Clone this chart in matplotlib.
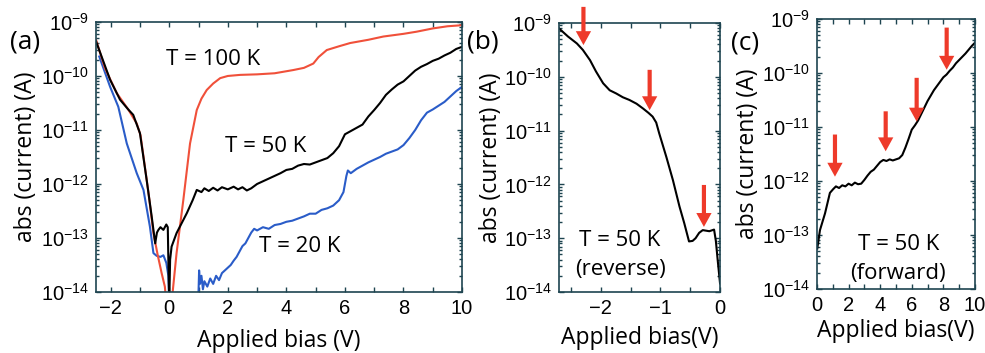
import numpy as np
import matplotlib
matplotlib.use("Agg")
import matplotlib.pyplot as plt
from matplotlib.ticker import FixedLocator, MultipleLocator, NullFormatter

# ---------------- data (log10 of current in A) ----------------
# Panel (a)
v100 = [-2.5, -2.2, -1.79, -1.4, -1.2, -1.11, -0.98, -0.88, -0.7, -0.54, -0.4, -0.26, -0.15, -0.1,
        0.08, 0.25, 0.48, 0.71, 0.94, 1.1, 1.28, 1.5, 1.74, 2.0, 2.42, 3.0, 3.6, 4.24, 4.6, 4.92, 5.1,
        5.38, 5.8, 6.18, 6.8, 7.31, 8.0, 8.45, 9.0, 9.5, 10.0]
i100 = [-9.33, -9.85, -10.32, -10.62, -10.8, -10.88, -11.1, -11.49, -12.2, -12.91, -13.3, -13.65, -13.9, -14.2,
        -14.2, -13.28, -12.3, -11.25, -10.63, -10.42, -10.26, -10.14, -10.04, -10.0, -9.98, -9.97, -9.95, -9.89,
        -9.85, -9.77, -9.65, -9.52, -9.45, -9.39, -9.33, -9.27, -9.22, -9.18, -9.12, -9.08, -9.06]

v50 = [-2.5, -2.02, -1.68, -1.4, -1.23, -1.0, -0.77, -0.6, -0.48, -0.42, -0.37, -0.3, -0.2,
       -0.1, -0.05, -0.02, 0.0, 0.03, 0.08, 0.25, 0.6, 0.8, 0.94, 1.1, 1.2, 1.35, 1.5, 1.65, 1.8,
       2.0, 2.2, 2.35, 2.5, 2.65, 2.8, 3.0, 3.2, 3.4, 3.6, 3.8, 4.0, 4.2, 4.4, 4.6, 4.8, 5.0, 5.2,
       5.4, 5.6, 5.8, 6.0, 6.2, 6.4, 6.6, 6.8, 7.0, 7.2, 7.4, 7.6, 7.8, 8.0, 8.2, 8.4, 8.6, 8.8,
       9.0, 9.2, 9.4, 9.6, 9.8, 10.0]
i50 = [-9.36, -10.07, -10.44, -10.62, -10.72, -11.06, -11.93, -12.6, -13.1, -12.9, -12.85, -12.8, -12.85,
       -12.75, -12.8, -13.7, -14.2, -13.4, -13.16, -12.91, -12.54, -12.3, -12.11, -12.15, -12.08, -12.13,
       -12.07, -12.12, -12.06, -12.1, -12.05, -12.1, -12.06, -12.12, -12.08, -12.0, -11.95, -11.9, -11.85,
       -11.8, -11.74, -11.72, -11.66, -11.63, -11.64, -11.6, -11.56, -11.52, -11.43, -11.3, -11.08, -11.02,
       -10.96, -10.9, -10.75, -10.63, -10.5, -10.35, -10.25, -10.16, -10.1, -10.0, -9.9, -9.83, -9.78,
       -9.72, -9.68, -9.62, -9.57, -9.5, -9.46]

v20a = [-2.39, -2.02, -1.74, -1.45, -1.11, -0.88, -0.66, -0.54, -0.43, -0.3, -0.2, -0.1, -0.03, 0.0]
i20a = [-9.64, -10.2, -10.57, -11.25, -11.8, -12.11, -12.79, -13.28, -13.33, -13.35, -13.32, -13.46, -13.7, -14.2]
v20b = [1.0, 1.02, 1.05, 1.1, 1.15, 1.2, 1.3, 1.4, 1.5, 1.6, 1.7, 1.8, 1.9, 2.0, 2.1, 2.2, 2.3, 2.4,
        2.5, 2.6, 2.7, 2.8, 2.9, 3.0, 3.2, 3.4, 3.6, 3.8, 4.0, 4.2, 4.4, 4.6, 4.8, 5.0, 5.2, 5.4, 5.6,
        5.8, 5.95, 6.05, 6.1, 6.2, 6.4, 6.6, 6.8, 7.0, 7.2, 7.4, 7.6, 7.8, 8.0, 8.2, 8.4, 8.6, 8.8,
        9.0, 9.2, 9.4, 9.6, 9.8, 10.0]
i20b = [-14.0, -13.6, -13.85, -13.7, -13.95, -13.8, -13.9, -13.75, -13.85, -13.7, -13.78, -13.65, -13.6,
        -13.55, -13.5, -13.42, -13.35, -13.25, -13.15, -13.1, -13.0, -12.9, -12.83, -12.86, -12.8, -12.83,
        -12.76, -12.74, -12.7, -12.68, -12.64, -12.6, -12.55, -12.55, -12.48, -12.45, -12.4, -12.3, -12.15,
        -11.85, -11.75, -11.8, -11.72, -11.66, -11.6, -11.55, -11.5, -11.44, -11.4, -11.36, -11.28, -11.15,
        -11.0, -10.82, -10.68, -10.62, -10.55, -10.48, -10.38, -10.28, -10.2]

# Panel (b): T = 50 K reverse
vb = [-2.7, -2.55, -2.4, -2.3, -2.18, -2.08, -1.96, -1.85, -1.74, -1.63, -1.52, -1.4, -1.29, -1.2,
      -1.13, -1.07, -1.02, -0.9, -0.79, -0.68, -0.6, -0.52, -0.46, -0.41, -0.35, -0.29, -0.18, -0.1,
      -0.07, -0.04, 0.0]
ib = [-9.1, -9.25, -9.38, -9.5, -9.69, -9.9, -10.12, -10.25, -10.31, -10.38, -10.43, -10.5, -10.59, -10.67,
      -10.74, -10.85, -11.05, -11.49, -11.92, -12.41, -12.72, -13.06, -13.05, -13.0, -12.9, -12.85, -12.87,
      -12.84, -13.05, -13.4, -13.84]
arrows_b_x = [-2.29, -1.18, -0.27]
arrows_b_tail = [-8.70, -9.87, -12.01]
arrows_b_tip = [-9.41, -10.62, -12.79]

# Panel (c): T = 50 K forward
vc = [0.02, 0.19, 0.51, 0.82, 1.03, 1.2, 1.4, 1.6, 1.8, 2.0, 2.2, 2.4, 2.6, 2.8, 3.0, 3.2, 3.4, 3.6,
      3.8, 4.0, 4.2, 4.4, 4.6, 4.8, 5.0, 5.2, 5.4, 5.6, 5.8, 6.0, 6.2, 6.4, 6.6, 6.8, 7.0, 7.2, 7.4,
      7.6, 7.8, 8.0, 8.2, 8.4, 8.6, 8.8, 9.0, 9.2, 9.4, 9.6, 9.8, 10.0]
ic = [-13.25, -12.91, -12.6, -12.22, -12.15, -12.1, -12.13, -12.08, -12.1, -12.05, -12.08, -12.03, -12.06,
      -12.05, -11.98, -11.9, -11.83, -11.79, -11.72, -11.65, -11.61, -11.63, -11.6, -11.62, -11.6, -11.58,
      -11.52, -11.38, -11.22, -11.05, -10.97, -10.88, -10.76, -10.64, -10.52, -10.42, -10.32, -10.24, -10.16,
      -10.08, -10.03, -9.96, -9.9, -9.82, -9.76, -9.7, -9.64, -9.57, -9.5, -9.44]
arrows_c_x = [1.14, 4.35, 6.31, 8.21]
arrows_c_tail = [-11.14, -10.71, -10.09, -9.16]
arrows_c_tip = [-11.92, -11.45, -10.9, -9.94]

yticks = [1e-14, 1e-13, 1e-12, 1e-11, 1e-10, 1e-9]

# ---------------- style ----------------
plt.rcParams['mathtext.fontset'] = 'custom'
plt.rcParams['mathtext.rm'] = 'Liberation Sans'
plt.rcParams['mathtext.it'] = 'Liberation Sans'
plt.rcParams['mathtext.bf'] = 'Liberation Sans'
plt.rcParams['font.family'] = ['Liberation Sans', 'DejaVu Sans']

FRAME = '#1e4450'
RED = '#f0503a'
BLUE = '#2a5cc8'
ARROW = '#ee3a2a'
LAB = 'Open Sans'
TICKFS = 14.5
LABFS = 16.5
TFS = 16

fig = plt.figure(figsize=(9.85, 3.53), dpi=100)
axa = fig.add_axes([0.0975, 0.1728, 0.3716, 0.765])
axb = fig.add_axes([0.5675, 0.1728, 0.1635, 0.762])
axc = fig.add_axes([0.8294, 0.1813, 0.1604, 0.765])

minor_vals = [m * 10.0 ** e for e in range(-14, -9) for m in range(2, 10)]


def style(ax, xmaj, xmin):
    ax.set_yscale('log')
    ax.set_ylim(1e-14, 1e-9)
    for s in ax.spines.values():
        s.set_color(FRAME)
        s.set_linewidth(1.2)
    ax.yaxis.set_major_locator(FixedLocator(yticks))
    ax.yaxis.set_minor_locator(FixedLocator(minor_vals))
    ax.yaxis.set_minor_formatter(NullFormatter())
    ax.xaxis.set_major_locator(MultipleLocator(xmaj))
    ax.xaxis.set_minor_locator(MultipleLocator(xmin))
    ax.tick_params(which='both', direction='in', top=True, right=True, color=FRAME,
                   labelsize=TICKFS, width=1.0)
    ax.tick_params(which='major', length=3.5)
    ax.tick_params(which='minor', length=2.2)
    ax.tick_params(axis='x', which='minor', length=3.5)
    ax.tick_params(axis='y', pad=5)
    ax.tick_params(axis='x', pad=5)


def arrow(ax, x, t0, t1):
    ax.annotate('', xy=(x, 10 ** t1), xytext=(x, 10 ** t0),
                arrowprops=dict(arrowstyle='simple,head_length=1.0,head_width=1.1,tail_width=0.3',
                                color=ARROW, lw=0, shrinkA=0, shrinkB=0),
                annotation_clip=False)


# Panel (a)
style(axa, 2, 1)
axa.set_xlim(-2.5, 10)
axa.plot(v20a, 10.0 ** np.array(i20a), color=BLUE, lw=1.5)
axa.plot(v20b, 10.0 ** np.array(i20b), color=BLUE, lw=1.5)
axa.plot(v100, 10.0 ** np.array(i100), color=RED, lw=1.5)
axa.plot(v50, 10.0 ** np.array(i50), color='black', lw=1.5)
axa.set_xlabel('Applied bias (V)', family=LAB, fontsize=LABFS, labelpad=8)
axa.set_ylabel('abs (current) (A)', family=LAB, fontsize=LABFS, labelpad=2)
axa.text(0.32, 0.862, 'T = 100 K', transform=axa.transAxes, family=LAB, fontsize=TFS,
         ha='center', va='center')
axa.text(0.464, 0.538, 'T = 50 K', transform=axa.transAxes, family=LAB, fontsize=TFS,
         ha='center', va='center')
axa.text(0.557, 0.168, 'T = 20 K', transform=axa.transAxes, family=LAB, fontsize=TFS,
         ha='center', va='center')

# Panel (b)
style(axb, 1, 0.5)
axb.set_xlim(-2.7, 0)
axb.plot(vb, 10.0 ** np.array(ib), color='black', lw=1.5)
axb.set_xlabel('Applied bias(V)', family=LAB, fontsize=LABFS, labelpad=6)
axb.set_ylabel('abs (current) (A)', family=LAB, fontsize=LABFS, labelpad=1)
axb.text(0.379, 0.193, 'T = 50 K', transform=axb.transAxes, family=LAB, fontsize=TFS,
         ha='center', va='center')
axb.text(0.379, 0.082, '(reverse)', transform=axb.transAxes, family=LAB, fontsize=TFS,
         ha='center', va='center')
for x, t0, t1 in zip(arrows_b_x, arrows_b_tail, arrows_b_tip):
    arrow(axb, x, t0, t1)

# Panel (c)
style(axc, 2, 1)
axc.set_xlim(0, 10)
axc.plot(vc, 10.0 ** np.array(ic), color='black', lw=1.5)
axc.set_xlabel('Applied bias(V)', family=LAB, fontsize=LABFS, labelpad=3)
axc.set_ylabel('abs (current) (A)', family=LAB, fontsize=LABFS, labelpad=1)
axc.text(0.515, 0.163, 'T = 50 K', transform=axc.transAxes, family=LAB, fontsize=TFS,
         ha='center', va='center')
axc.text(0.515, 0.058, '(forward)', transform=axc.transAxes, family=LAB, fontsize=TFS,
         ha='center', va='center')
for x, t0, t1 in zip(arrows_c_x, arrows_c_tail, arrows_c_tip):
    arrow(axc, x, t0, t1)

# panel labels
fig.text(0.025, 0.882, '(a)', family=LAB, fontsize=19, ha='center', va='center')
fig.text(0.490, 0.882, '(b)', family=LAB, fontsize=19, ha='center', va='center')
fig.text(0.756, 0.877, '(c)', family=LAB, fontsize=19, ha='center', va='center')

fig.savefig('out.png', dpi=100)
